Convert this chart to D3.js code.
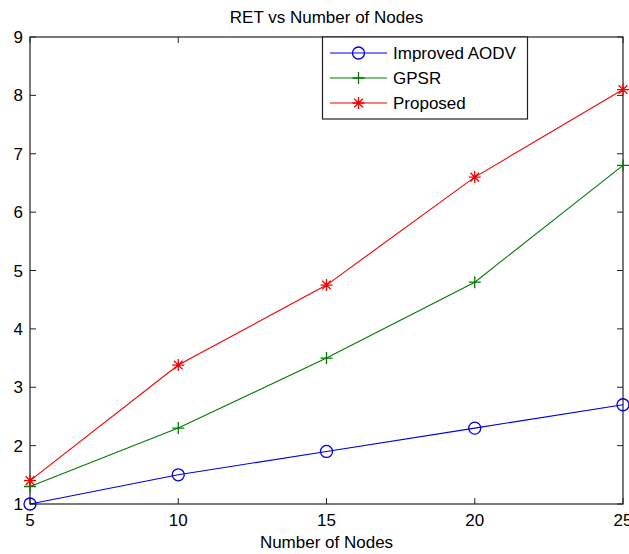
<!DOCTYPE html>
<html>
<head>
<meta charset="utf-8">
<script src="https://cdn.jsdelivr.net/npm/d3@7"></script>
<style>
	body { margin: 0; background: #fff; }
	text { font-family: Arial, "Liberation Sans", sans-serif; fill: #000; }
</style>
</head>
<body>
<div id="chart"></div>
<script>
//	数据
const nodes = [5, 10, 15, 20, 25];
const improvedAodv = [1.0, 1.5, 1.9, 2.3, 2.7];
const gpsr = [1.3, 2.3, 3.5, 4.8, 6.8];
const proposed = [1.4, 3.38, 4.75, 6.6, 8.1];
const xTicks = [5, 10, 15, 20, 25];
const yTicks = [1, 2, 3, 4, 5, 6, 7, 8, 9];
const seriesNames = ['Improved AODV', 'GPSR', 'Proposed'];

const width = 629, height = 554;
const margin = { top: 37, right: 6, bottom: 50, left: 30 };
const fs = 17;

const svg = d3.select('#chart')
	.append('svg')
	.attr('width', width)
	.attr('height', height);

const x = d3.scaleLinear().domain([5, 25]).range([margin.left, width - margin.right]);
const y = d3.scaleLinear().domain([1, 9]).range([height - margin.bottom, margin.top]);

const series = [
	{ name: seriesNames[0], values: improvedAodv, color: '#0000e0', marker: 'circle' },
	{ name: seriesNames[1], values: gpsr, color: '#007a00', marker: 'plus' },
	{ name: seriesNames[2], values: proposed, color: '#f00000', marker: 'star' },
];

//	画坐标轴（MATLAB 风格，刻度朝内，上下左右都有）
const x0 = x.range()[0], x1 = x.range()[1];
const y0 = y.range()[0], y1 = y.range()[1];
const tickLen = 6;

const axisG = svg.append('g');
axisG.append('rect')
	.attr('x', x0).attr('y', y1)
	.attr('width', x1 - x0).attr('height', y0 - y1)
	.style('fill', 'none')
	.attr('stroke', '#222')
	.style('stroke-width', 1.2);

xTicks.forEach(t => {
	axisG.append('line').attr('x1', x(t)).attr('x2', x(t)).attr('y1', y0).attr('y2', y0 - tickLen).attr('stroke', '#222');
	axisG.append('line').attr('x1', x(t)).attr('x2', x(t)).attr('y1', y1).attr('y2', y1 + tickLen).attr('stroke', '#222');
	axisG.append('text')
		.attr('x', x(t)).attr('y', y0 + 22)
		.attr('text-anchor', 'middle')
		.style('font-size', fs + 'px')
		.text(t);
});

yTicks.forEach(t => {
	axisG.append('line').attr('x1', x0).attr('x2', x0 + tickLen).attr('y1', y(t)).attr('y2', y(t)).attr('stroke', '#222');
	axisG.append('line').attr('x1', x1).attr('x2', x1 - tickLen).attr('y1', y(t)).attr('y2', y(t)).attr('stroke', '#222');
	axisG.append('text')
		.attr('x', x0 - 7).attr('y', y(t) + 6)
		.attr('text-anchor', 'end')
		.style('font-size', fs + 'px')
		.text(t);
});

//	标题和坐标轴标签
svg.append('text')
	.attr('x', (x0 + x1) / 2).attr('y', 23)
	.attr('text-anchor', 'middle')
	.style('font-size', fs + 'px')
	.text('RET vs Number of Nodes');

svg.append('text')
	.attr('x', (x0 + x1) / 2).attr('y', 548)
	.attr('text-anchor', 'middle')
	.style('font-size', fs + 'px')
	.text('Number of Nodes');

//	画标记
const drawMarker = (g, type, cx, cy, color) => {
	const r = 6;
	if (type === 'circle') {
		g.append('circle').attr('cx', cx).attr('cy', cy).attr('r', r)
			.style('fill', 'none').attr('stroke', color).style('stroke-width', 1.3);
	} else if (type === 'plus') {
		g.append('path')
			.attr('d', `M${cx - r},${cy}H${cx + r}M${cx},${cy - r}V${cy + r}`)
			.attr('stroke', color).style('stroke-width', 1.3);
	} else {
		const d = r * 0.72;
		g.append('path')
			.attr('d', `M${cx - r},${cy}H${cx + r}M${cx},${cy - r}V${cy + r}`
				+ `M${cx - d},${cy - d}L${cx + d},${cy + d}M${cx - d},${cy + d}L${cx + d},${cy - d}`)
			.attr('stroke', color).style('stroke-width', 1.3);
	}
};

//	画折线
const line = d3.line()
	.x((d, i) => x(nodes[i]))
	.y(d => y(d));

series.forEach(s => {
	const g = svg.append('g');
	g.append('path')
		.attr('d', line(s.values))
		.style('fill', 'none')
		.attr('stroke', s.color)
		.style('stroke-width', 1.1);
	s.values.forEach((v, i) => drawMarker(g, s.marker, x(nodes[i]), y(v), s.color));
});

//	图例
const lg = svg.append('g');
lg.append('rect')
	.attr('x', 322.5).attr('y', 37)
	.attr('width', 205).attr('height', 82)
	.style('fill', '#fff')
	.attr('stroke', '#222')
	.style('stroke-width', 1.2);

const rowY = [53, 78, 103];
series.forEach((s, i) => {
	lg.append('line')
		.attr('x1', 330).attr('x2', 387)
		.attr('y1', rowY[i]).attr('y2', rowY[i])
		.attr('stroke', s.color)
		.style('stroke-width', 1.1);
	drawMarker(lg, s.marker, 358.5, rowY[i], s.color);
	lg.append('text')
		.attr('x', 393).attr('y', rowY[i] + 6)
		.style('font-size', fs + 'px')
		.text(s.name);
});
</script>
</body>
</html>
